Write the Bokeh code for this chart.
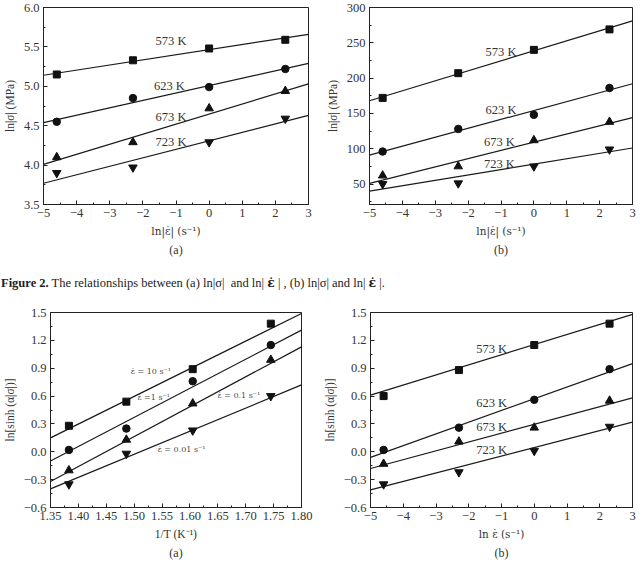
from bokeh.plotting import figure
from bokeh.layouts import column, row
from bokeh.models import Range1d, Title, Div, Label, SingleIntervalTicker, CustomJSTickFormatter
from bokeh.embed import file_html
from bokeh.resources import INLINE

# ---------------- data ----------------
strain_rate_ln = [-4.6, -2.3, 0.0, 2.3]          # ln(0.01), ln(0.1), ln(1), ln(10)
inv_T = [1.383, 1.486, 1.605, 1.745]             # 1000/T for 723, 673, 623, 573 K
temps = ["573 K", "623 K", "673 K", "723 K"]
rates = ["ε̇ = 10 s⁻¹", "ε̇ =1 s⁻¹", "ε̇  = 0.1 s⁻¹", "ε̇ = 0.01 s⁻¹"]

# (a) ln|sigma| vs ln strain rate
lnsig = {
    "573 K": [5.15, 5.33, 5.48, 5.59],
    "623 K": [4.55, 4.85, 4.99, 5.22],
    "673 K": [4.10, 4.29, 4.72, 4.94],
    "723 K": [3.90, 3.97, 4.29, 4.59],
}
lnsig_fit_x = [-5, 3]
lnsig_fit = {
    "573 K": [5.14, 5.66],
    "623 K": [4.54, 5.29],
    "673 K": [4.01, 5.03],
    "723 K": [3.77, 4.63],
}
lnsig_lab = {"573 K": (-1.15, 5.57), "623 K": (-1.2, 5.0), "673 K": (-1.15, 4.61), "723 K": (-1.15, 4.29)}

# (b) sigma vs ln strain rate
sig = {
    "573 K": [172, 207, 240, 269],
    "623 K": [96, 128, 148, 186],
    "673 K": [62, 75, 112, 138],
    "723 K": [50, 51, 75, 99],
}
sig_fit = {
    "573 K": [168, 281],
    "623 K": [91, 192],
    "673 K": [51, 144],
    "723 K": [40, 101],
}
sig_lab = {"573 K": (-1.0, 237), "623 K": (-1.0, 155), "673 K": (-1.05, 110), "723 K": (-1.05, 79)}

# (c) ln[sinh(alpha sigma)] vs 1/T
lnsinh_T = {
    "ε̇ = 10 s⁻¹": [0.28, 0.54, 0.89, 1.38],
    "ε̇ =1 s⁻¹": [0.02, 0.25, 0.76, 1.15],
    "ε̇  = 0.1 s⁻¹": [-0.20, 0.13, 0.52, 0.99],
    "ε̇ = 0.01 s⁻¹": [-0.35, -0.02, 0.23, 0.60],
}
lnsinh_T_fit_x = [1.35, 1.80]
lnsinh_T_fit = {
    "ε̇ = 10 s⁻¹": [0.15, 1.49],
    "ε̇ =1 s⁻¹": [-0.10, 1.31],
    "ε̇  = 0.1 s⁻¹": [-0.32, 1.13],
    "ε̇ = 0.01 s⁻¹": [-0.40, 0.72],
}
lnsinh_T_lab = {"ε̇ = 10 s⁻¹": (1.53, 0.86), "ε̇ =1 s⁻¹": (1.535, 0.58),
                "ε̇  = 0.1 s⁻¹": (1.69, 0.61), "ε̇ = 0.01 s⁻¹": (1.585, 0.02)}

# (d) ln[sinh(alpha sigma)] vs ln strain rate
lnsinh_e = {
    "573 K": [0.60, 0.88, 1.15, 1.38],
    "623 K": [0.02, 0.26, 0.56, 0.89],
    "673 K": [-0.13, 0.11, 0.26, 0.55],
    "723 K": [-0.35, -0.22, 0.01, 0.27],
}
lnsinh_e_fit = {
    "573 K": [0.61, 1.48],
    "623 K": [-0.06, 0.95],
    "673 K": [-0.18, 0.58],
    "723 K": [-0.41, 0.32],
}
lnsinh_e_lab = {"573 K": (-1.3, 1.11), "623 K": (-1.3, 0.53), "673 K": (-1.3, 0.27), "723 K": (-1.3, 0.02)}

markers = ["square", "circle", "triangle", "inverted_triangle"]
msize = {"square": 7, "circle": 7.5, "triangle": 8.5, "inverted_triangle": 8.5}
FONT = "Liberation Serif"
EFONT = "DejaVu Serif"
TXT = "#333333"


def tick(interval):
    return SingleIntervalTicker(interval=interval, num_minor_ticks=2)


def fmt(dec):
    return CustomJSTickFormatter(code="return tick.toFixed(%d).replace('-', '\u2212');" % dec)


def make_fig(w, h, left, right, top, bottom, xr, yr, xlab, ylab, sub, xtick, ytick, xdec, ydec):
    p = figure(width=w, height=h, output_backend="svg", toolbar_location=None,
               x_range=Range1d(*xr), y_range=Range1d(*yr),
               min_border_left=left, min_border_right=right,
               min_border_top=top, min_border_bottom=bottom)
    p.grid.visible = False
    p.outline_line_color = "#222222"
    p.outline_line_width = 1
    for ax in (p.xaxis[0], p.yaxis[0]):
        ax.axis_line_color = "#222222"
        ax.major_tick_in = 4
        ax.major_tick_out = 0
        ax.minor_tick_in = 2
        ax.minor_tick_out = 0
        ax.major_tick_line_color = "#222222"
        ax.minor_tick_line_color = "#222222"
        ax.major_label_text_font = FONT
        ax.major_label_text_font_size = "12.5px"
        ax.major_label_text_color = TXT
        ax.axis_label_text_font = FONT
        ax.axis_label_text_font_size = "11.5px"
        ax.axis_label_text_font_style = "normal"
        ax.axis_label_text_color = TXT
        ax.major_label_standoff = 4
        ax.axis_label_standoff = 5
    p.xaxis.axis_label = xlab
    p.yaxis.axis_label = ylab
    if "ε̇" in xlab:
        p.xaxis.axis_label_text_font = EFONT
        p.xaxis.axis_label_text_font_size = "10.5px"
    p.xaxis.ticker = xtick
    p.yaxis.ticker = ytick
    p.xaxis.formatter = fmt(xdec)
    p.yaxis.formatter = fmt(ydec)
    t = Title(text=sub, align="center", text_font=FONT, text_font_size="12px",
              text_font_style="normal", text_color=TXT, standoff=2)
    p.add_layout(t, "below")
    return p


def add_series(p, xs, data, fit_x, fit, keys, labs, lab_font=FONT, lab_size="12.5px", lab_color=TXT):
    for k, m in zip(keys, markers):
        p.line(fit_x, fit[k], line_color="#1a1a1a", line_width=1.2)
        p.scatter(xs, data[k], marker=m, size=msize[m],
                  fill_color="#111111", line_color="#111111")
        lx, ly = labs[k]
        p.add_layout(Label(x=lx, y=ly, text=k, text_font=lab_font, text_font_size=lab_size,
                           text_color=lab_color, text_align="center", text_baseline="middle"))


# Panel (a) top-left
p1 = make_fig(320, 268, 43, 12, 5, 64, (-5, 3), (3.5, 6.0),
              "ln|ε̇| (s⁻¹)", "ln|σ| (MPa)", "(a)", tick(1), tick(0.5), 0, 1)
add_series(p1, strain_rate_ln, lnsig, lnsig_fit_x, lnsig_fit, temps, lnsig_lab)

# Panel (b) top-right
p2 = make_fig(323, 268, 49, 11, 7, 64, (-5, 3), (21, 300),
              "ln|ε̇| (s⁻¹)", "ln|σ| (MPa)", "(b)", tick(1), tick(50), 0, 0)
add_series(p2, strain_rate_ln, sig, lnsig_fit_x, sig_fit, temps, sig_lab)

# caption
cap = Div(width=643, height=32, margin=0, text=(
    '<div style="position:relative; left:1px; top:6px; white-space:nowrap; '
    'font-family:\'Liberation Serif\'; font-size:12.5px; color:#222;">'
    '<b>Figure 2.</b> The relationships between (a) ln|σ|&nbsp; and ln| '
    '<b style="font-family:\'DejaVu Serif\'">ε̇</b> | , '
    '(b) ln|σ| and ln| <b style="font-family:\'DejaVu Serif\'">ε̇</b> |.</div>'))

# Panel (c) bottom-left
p3 = make_fig(320, 269, 42, 19, 12, 62, (1.35, 1.80), (-0.6, 1.5),
              "1/T (K⁻¹)", "ln[sinh (α|σ|)]", "(a)", tick(0.05), tick(0.3), 2, 1)
add_series(p3, inv_T, lnsinh_T, lnsinh_T_fit_x, lnsinh_T_fit, rates, lnsinh_T_lab,
           lab_font=EFONT, lab_size="8px", lab_color="#4a4a4a")

# Panel (d) bottom-right
p4 = make_fig(323, 269, 49, 11, 10, 62, (-5, 3), (-0.6, 1.5),
              "ln ε̇ (s⁻¹)", "ln[sinh (α|σ|)]", "(b)", tick(1), tick(0.3), 0, 1)
add_series(p4, strain_rate_ln, lnsinh_e, lnsig_fit_x, lnsinh_e_fit, temps, lnsinh_e_lab)

layout = column(row(p1, p2, spacing=0), cap, row(p3, p4, spacing=0), spacing=0)
open("out.html", "w").write(file_html(layout, INLINE))
